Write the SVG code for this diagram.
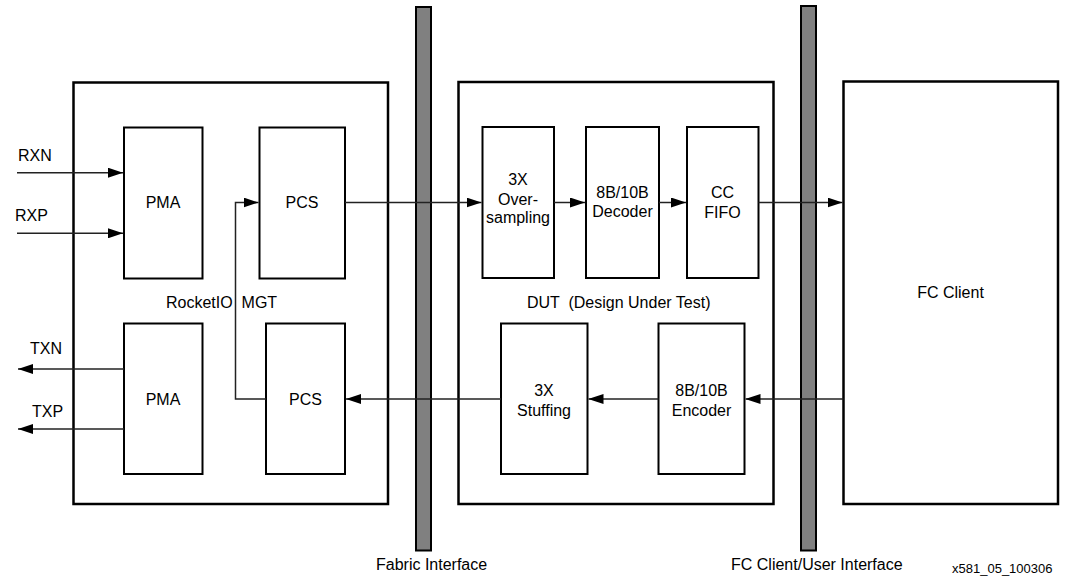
<svg xmlns="http://www.w3.org/2000/svg" width="1068" height="579" viewBox="0 0 1068 579">
<style>
text{font-family:"Liberation Sans",Arial,sans-serif;font-size:16px;fill:#000;white-space:pre}
.c{text-anchor:middle}
.outer{fill:#fff;stroke:#000;stroke-width:2.5}
.inner{fill:#fff;stroke:#000;stroke-width:2}
.bar{fill:#808080;stroke:#000;stroke-width:2}
.ln{fill:none;stroke:#222;stroke-width:1.5}
</style>
<defs>
<marker id="ah" viewBox="0 0 15 10" refX="15" refY="5" markerWidth="15" markerHeight="10" markerUnits="userSpaceOnUse" orient="auto">
<path d="M0,0 L15,5 L0,10 Z" fill="#000"/>
</marker>
</defs>

<g id="rocketio">
<rect class="outer" x="73.5" y="82.5" width="314.5" height="421.5"/>
<text x="166" y="308" xml:space="preserve">RocketIO  MGT</text>
</g>
<g id="pma-rx"><rect class="inner" x="124" y="127.5" width="78.5" height="151"/><text class="c" x="163" y="208">PMA</text></g>
<g id="pcs-rx"><rect class="inner" x="259.5" y="127.5" width="85.5" height="151"/><text class="c" x="302" y="208">PCS</text></g>
<g id="pma-tx"><rect class="inner" x="124" y="323.5" width="78.5" height="150.5"/><text class="c" x="163" y="405">PMA</text></g>
<g id="pcs-tx"><rect class="inner" x="266" y="323.5" width="79" height="150.5"/><text class="c" x="305.5" y="405">PCS</text></g>

<g id="fabric-bar"><rect class="bar" x="416" y="7" width="15" height="543.5"/><text x="376" y="570">Fabric Interface</text></g>

<g id="dut">
<rect class="outer" x="458.5" y="82" width="315" height="422"/>
<text x="527" y="308" xml:space="preserve">DUT  (Design Under Test)</text>
</g>
<g id="oversampling"><rect class="inner" x="482.5" y="127" width="71.5" height="151"/>
<text class="c" x="518" y="185">3X</text><text class="c" x="518" y="205">Over-</text><text class="c" x="518" y="223">sampling</text></g>
<g id="decoder"><rect class="inner" x="586" y="127" width="73" height="151"/>
<text class="c" x="622.5" y="198">8B/10B</text><text class="c" x="622.5" y="217">Decoder</text></g>
<g id="ccfifo"><rect class="inner" x="687" y="127" width="71.5" height="151"/>
<text class="c" x="722.5" y="198">CC</text><text class="c" x="722.5" y="218">FIFO</text></g>
<g id="stuffing"><rect class="inner" x="501" y="323.5" width="86.5" height="150.5"/>
<text class="c" x="544" y="396">3X</text><text class="c" x="544" y="416">Stuffing</text></g>
<g id="encoder"><rect class="inner" x="658.5" y="323.5" width="86" height="150.5"/>
<text class="c" x="701.5" y="396">8B/10B</text><text class="c" x="701.5" y="416">Encoder</text></g>

<g id="fc-bar"><rect class="bar" x="801" y="6" width="15" height="544.5"/><text x="731" y="570">FC Client/User Interface</text></g>

<g id="fc-client"><rect class="outer" x="843.5" y="81.5" width="214.5" height="422.5"/>
<text class="c" x="950.5" y="298">FC Client</text></g>

<g id="labels">
<text x="18" y="161">RXN</text>
<text x="15" y="221">RXP</text>
<text x="30" y="354">TXN</text>
<text x="32" y="417">TXP</text>
<text x="952" y="573" style="font-size:13px">x581_05_100306</text>
</g>

<g id="connectors">
<path class="ln" d="M17,172.7 H123" marker-end="url(#ah)"/>
<path class="ln" d="M17,233.3 H123" marker-end="url(#ah)"/>
<path class="ln" d="M124,369 H18" marker-end="url(#ah)"/>
<path class="ln" d="M124,429 H18" marker-end="url(#ah)"/>
<path class="ln" d="M345,202.5 H481.5" marker-end="url(#ah)"/>
<path class="ln" d="M554,202.5 H585" marker-end="url(#ah)"/>
<path class="ln" d="M659,202.5 H686" marker-end="url(#ah)"/>
<path class="ln" d="M758.5,202.5 H842.5" marker-end="url(#ah)"/>
<path class="ln" d="M843.5,399 H745.5" marker-end="url(#ah)"/>
<path class="ln" d="M658.5,399 H588.5" marker-end="url(#ah)"/>
<path class="ln" d="M501,399 H346" marker-end="url(#ah)"/>
<path class="ln" d="M266,399 H235.5 V202.5 H258.5" marker-end="url(#ah)"/>
</g>
</svg>
